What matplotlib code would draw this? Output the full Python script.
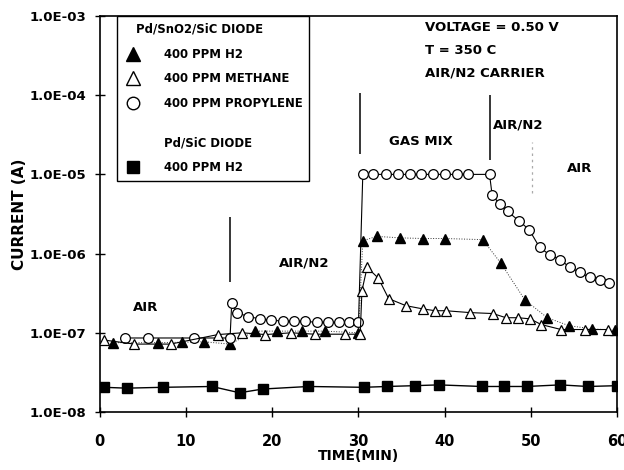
import matplotlib
matplotlib.use("Agg")
import matplotlib.pyplot as plt
from matplotlib.lines import Line2D
from matplotlib.ticker import FixedLocator, FuncFormatter, NullLocator

plt.rcParams['font.family'] = ['DejaVu Sans']
plt.rcParams['font.weight'] = 'bold'

# ---- data ----
t_sic_h2 = [0.5, 3.1, 7.3, 13.0, 16.2, 18.9, 24.2, 30.6, 33.3, 36.5, 39.3, 44.3, 46.9, 49.5, 53.4, 56.6, 60.0]
i_sic_h2 = [2.05e-8, 2.0e-8, 2.05e-8, 2.1e-8, 1.75e-8, 1.95e-8, 2.1e-8, 2.05e-8, 2.1e-8, 2.15e-8, 2.2e-8,
            2.1e-8, 2.1e-8, 2.1e-8, 2.2e-8, 2.1e-8, 2.15e-8]

t_h2 = [1.5, 6.8, 9.5, 12.1, 15.1, 18.0, 20.6, 23.4, 26.1, 30.0, 30.5, 32.1, 34.8, 37.5, 40.0, 44.4,
        46.5, 49.3, 51.9, 54.4, 57.1, 59.7]
i_h2 = [7.5e-8, 7.5e-8, 7.6e-8, 7.7e-8, 7.2e-8, 1.05e-7, 1.05e-7, 1.05e-7, 1.05e-7, 1.0e-7, 1.45e-6,
        1.65e-6, 1.58e-6, 1.55e-6, 1.55e-6, 1.5e-6, 7.6e-7, 2.6e-7, 1.55e-7, 1.23e-7, 1.12e-7, 1.08e-7]

t_ch4 = [0.5, 4.0, 8.2, 13.7, 16.5, 19.2, 22.2, 24.9, 28.4, 30.2, 30.4, 31.0, 32.3, 33.5, 35.5, 37.5,
         38.9, 40.1, 42.9, 45.6, 47.1, 48.5, 49.9, 51.2, 53.5, 56.3, 58.9]
i_ch4 = [8.1e-8, 7.2e-8, 7.2e-8, 9.5e-8, 1.0e-7, 9.5e-8, 1.0e-7, 9.6e-8, 9.6e-8, 9.6e-8, 3.4e-7, 6.7e-7,
         4.9e-7, 2.7e-7, 2.2e-7, 2.0e-7, 1.9e-7, 1.9e-7, 1.8e-7, 1.75e-7, 1.55e-7, 1.55e-7, 1.5e-7,
         1.27e-7, 1.1e-7, 1.1e-7, 1.1e-7]

t_prop = [2.9, 5.6, 10.9, 15.1, 15.3, 15.9, 17.2, 18.6, 19.9, 21.2, 22.5, 23.8, 25.2, 26.5, 27.7, 28.9,
          30.0, 30.5, 31.7, 33.2, 34.6, 36.0, 37.2, 38.6, 40.0, 41.4, 42.7, 45.2, 45.5, 46.4, 47.3,
          48.6, 49.8, 51.0, 52.2, 53.4, 54.5, 55.7, 56.8, 58.0, 59.0]
i_prop = [8.6e-8, 8.6e-8, 8.6e-8, 8.6e-8, 2.4e-7, 1.8e-7, 1.6e-7, 1.5e-7, 1.45e-7, 1.4e-7, 1.4e-7,
          1.4e-7, 1.35e-7, 1.35e-7, 1.35e-7, 1.35e-7, 1.35e-7, 1.0e-5, 1.0e-5, 1.0e-5, 1.0e-5, 1.0e-5,
          1.0e-5, 1.0e-5, 1.0e-5, 1.0e-5, 1.0e-5, 1.0e-5, 5.5e-6, 4.2e-6, 3.4e-6, 2.6e-6, 2.0e-6,
          1.2e-6, 9.6e-7, 8.4e-7, 6.7e-7, 5.8e-7, 5.0e-7, 4.6e-7, 4.2e-7]

x_ticks = [0, 10, 20, 30, 40, 50, 60]
y_ticks = [1e-8, 1e-7, 1e-6, 1e-5, 1e-4, 1e-3]

# phase separator lines: (time, low current, high current)
sep_time = [15.1, 30.2, 45.2]
sep_low = [4.4e-7, 1.8e-5, 1.5e-5]
sep_high = [2.9e-6, 1.07e-4, 1.0e-4]
dotted_time = 50.1
dotted_low, dotted_high = 5.8e-6, 2.6e-5

phase_labels = ["AIR", "AIR/N2", "GAS MIX", "AIR/N2", "AIR"]
phase_x = [5.3, 23.7, 37.2, 45.6, 55.7]
phase_y = [2.1e-7, 7.6e-7, 2.6e-5, 4.2e-5, 1.2e-5]
phase_ha = ["center", "center", "center", "left", "center"]

cond_text = ["VOLTAGE = 0.50 V", "T = 350 C", "AIR/N2 CARRIER"]

# ---- figure ----
fig = plt.figure(figsize=(6.24, 4.70), dpi=100)
ax = fig.add_axes([0.160, 0.1234, 0.829, 0.8426])
ax.set_yscale('log')
ax.set_xlim(0, 60)
ax.set_ylim(1e-8, 1e-3)

ax.plot(t_sic_h2, i_sic_h2, color='black', lw=1.0, marker='s', ms=6.5, mfc='black', mec='black', zorder=3)
ax.plot(t_h2, i_h2, color='#333333', lw=0.7, ls=':', marker='^', ms=7.5, mfc='black', mec='black', zorder=4)
ax.plot(t_ch4, i_ch4, color='black', lw=0.8, marker='^', ms=7.5, mfc='white', mec='black', mew=0.9, zorder=5)
ax.plot(t_prop, i_prop, color='black', lw=0.8, marker='o', ms=7, mfc='white', mec='black', mew=0.9, zorder=4)

ax.vlines(sep_time, sep_low, sep_high, colors='black', lw=1.1)
ax.vlines([dotted_time], [dotted_low], [dotted_high], colors='#aaaaaa', lw=0.9, linestyles=(0, (2, 3)))

for lab, x, y, ha in zip(phase_labels, phase_x, phase_y, phase_ha):
    ax.text(x, y, lab, ha=ha, va='center', fontsize=9.5, fontweight='bold')

for k, s in enumerate(cond_text):
    ax.text(0.629, 0.972 - k * 0.058, s, transform=ax.transAxes, ha='left', va='center',
            fontsize=9.5, fontweight='bold')

ax.xaxis.set_major_locator(FixedLocator(x_ticks))
ax.yaxis.set_major_locator(FixedLocator(y_ticks))
ax.yaxis.set_minor_locator(NullLocator())
ax.yaxis.set_major_formatter(FuncFormatter(lambda v, p: f"{v:.1E}"))
ax.xaxis.set_major_formatter(FuncFormatter(lambda v, p: f"{int(round(v))}"))
ax.tick_params(axis='x', direction='inout', length=7, width=1, pad=12, labelsize=10.5)
ax.tick_params(axis='y', direction='inout', length=7, width=1, pad=6, labelsize=9.5)
for lab in ax.get_xticklabels() + ax.get_yticklabels():
    lab.set_fontweight('bold')
for sp in ax.spines.values():
    sp.set_linewidth(1.2)

ax.set_xlabel("TIME(MIN)", fontsize=10, fontweight='bold', labelpad=0)
ax.set_ylabel("CURRENT (A)", fontsize=11, fontweight='bold', labelpad=2)

handles = [
    Line2D([], [], ls='none', marker='^', ms=10, mfc='black', mec='black'),
    Line2D([], [], ls='none', marker='^', ms=10, mfc='white', mec='black'),
    Line2D([], [], ls='none', marker='o', ms=9, mfc='white', mec='black'),
    Line2D([], [], ls='none'),
    Line2D([], [], ls='none', marker='s', ms=9, mfc='black', mec='black'),
]
labels = ["400 PPM H2", "400 PPM METHANE", "400 PPM PROPYLENE", "\nPd/SiC DIODE", "400 PPM H2"]
leg = ax.legend(handles, labels, loc='upper left', bbox_to_anchor=(0.033, 1.0),
                title="   Pd/SnO2/SiC DIODE", alignment='left', frameon=True, fancybox=False,
                edgecolor='black', framealpha=1, borderpad=0.6, labelspacing=1.0,
                handlelength=1.5, handletextpad=1.9, borderaxespad=0,
                prop={'weight': 'bold', 'size': 8.4},
                title_fontproperties={'weight': 'bold', 'size': 8.4})
leg.get_frame().set_linewidth(1.0)

fig.savefig("out.png", dpi=100)
